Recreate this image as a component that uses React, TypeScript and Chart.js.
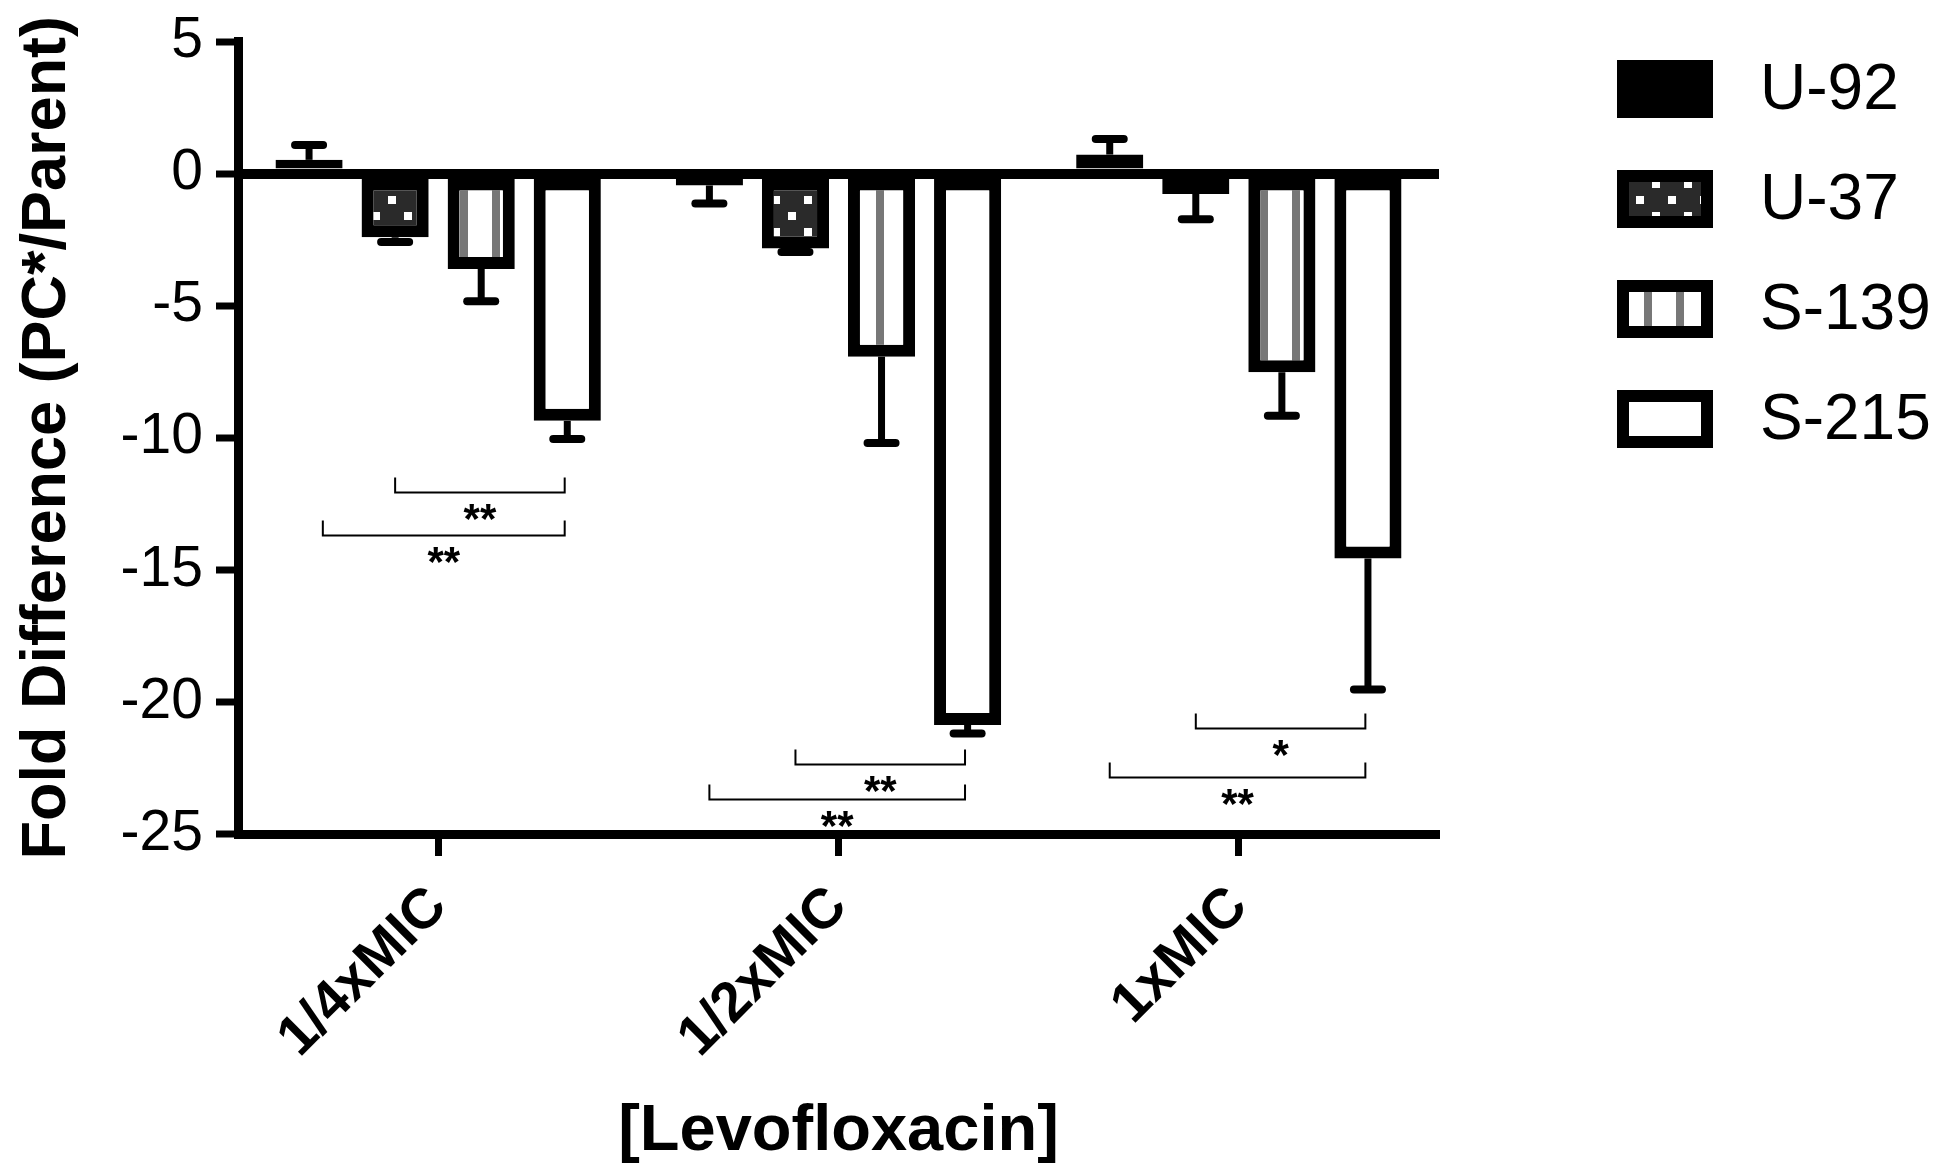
import { useEffect, useRef } from "react";
import { Chart, registerables } from "chart.js";

Chart.register(...registerables);

const categories = ["1/4xMIC", "1/2xMIC", "1xMIC"];
const seriesNames = ["U-92", "U-37", "S-139", "S-215"];

const u92Values = [0.52, -0.45, 0.72];
const u37Values = [-2.41, -2.84, -0.77];
const s139Values = [-3.61, -6.93, -7.52];
const s215Values = [-9.36, -20.87, -14.57];

const u92Errors = [0.56, 0.68, 0.59];
const u37Errors = [0.18, 0.13, 0.96];
const s139Errors = [1.22, 3.27, 1.65];
const s215Errors = [0.69, 0.33, 4.96];

const yTicks = [5, 0, -5, -10, -15, -20, -25];

// significance brackets (category index, from bar, to bar, level, label)
const bracketCategory = [0, 0, 1, 1, 2, 2];
const bracketFrom = [1, 0.16, 1, 0, 1, 0];
const bracketTo = [2.97, 2.97, 2.97, 2.97, 2.97, 2.97];
const bracketLevel = [-12.07, -13.68, -22.36, -23.68, -21.0, -22.84];
const bracketLabels = ["**", "**", "**", "**", "*", "**"];

const FONT = '"Liberation Sans", Arial, Helvetica, sans-serif';
const W = 1933;
const H = 1171;

function tile(w: number, h: number, draw: (g: CanvasRenderingContext2D) => void) {
  const c = document.createElement("canvas");
  c.width = w;
  c.height = h;
  const g = c.getContext("2d")!;
  draw(g);
  return c;
}

export default function App() {
  const canvasRef = useRef<HTMLCanvasElement | null>(null);

  useEffect(() => {
    if (!canvasRef.current) return;
    const ctx0 = canvasRef.current.getContext("2d")!;

    const dots = ctx0.createPattern(
      tile(32, 32, (g) => {
        g.fillStyle = "#2a2a2a";
        g.fillRect(0, 0, 32, 32);
        g.fillStyle = "#ffffff";
        g.fillRect(4, 4, 8, 8);
        g.fillRect(20, 20, 8, 8);
      }),
      "repeat"
    )!;
    const stripes = ctx0.createPattern(
      tile(32, 8, (g) => {
        g.fillStyle = "#ffffff";
        g.fillRect(0, 0, 32, 8);
        g.fillStyle = "#777777";
        g.fillRect(12, 0, 8, 8);
      }),
      "repeat"
    )!;

    const fills: (string | CanvasPattern)[] = ["#000000", dots, stripes, "#ffffff"];
    const values = [u92Values, u37Values, s139Values, s215Values];
    const errors = [u92Errors, u37Errors, s139Errors, s215Errors];

    const overlay = {
      id: "overlay",
      afterDatasetsDraw(chart: Chart) {
        const { ctx } = chart;
        const y = chart.scales.y;
        ctx.save();
        ctx.strokeStyle = "#000";
        // error bars, drawn away from zero
        values.forEach((vals, di) => {
          const meta = chart.getDatasetMeta(di);
          meta.data.forEach((bar: any, i: number) => {
            const v = vals[i];
            const tip = v + Math.sign(v) * errors[di][i];
            const y0 = y.getPixelForValue(v);
            const y1 = y.getPixelForValue(tip);
            ctx.lineWidth = 7;
            ctx.lineCap = "butt";
            ctx.beginPath();
            ctx.moveTo(bar.x, y0);
            ctx.lineTo(bar.x, y1);
            ctx.stroke();
            ctx.lineWidth = 8;
            ctx.lineCap = "round";
            ctx.beginPath();
            ctx.moveTo(bar.x - 14, y1);
            ctx.lineTo(bar.x + 14, y1);
            ctx.stroke();
          });
        });
        // brackets
        ctx.lineCap = "butt";
        ctx.lineWidth = 2;
        ctx.fillStyle = "#000";
        ctx.font = `bold 42px ${FONT}`;
        ctx.textAlign = "center";
        ctx.textBaseline = "alphabetic";
        bracketLabels.forEach((label, k) => {
          const c = bracketCategory[k];
          const x0 = (chart.getDatasetMeta(0).data[c] as any).x;
          const step = (chart.getDatasetMeta(1).data[c] as any).x - x0;
          const xa = x0 + bracketFrom[k] * step;
          const xb = x0 + bracketTo[k] * step;
          const yl = Math.round(y.getPixelForValue(bracketLevel[k])) + 0.5;
          ctx.beginPath();
          ctx.moveTo(xa, yl - 15);
          ctx.lineTo(xa, yl);
          ctx.lineTo(xb, yl);
          ctx.lineTo(xb, yl - 15);
          ctx.stroke();
          ctx.fillText(label, (xa + xb) / 2, yl + 40);
        });
        ctx.restore();
      },
      afterDraw(chart: Chart) {
        const { ctx } = chart;
        ctx.save();
        chart.data.datasets.forEach((ds: any, i: number) => {
          const left = 1617;
          const top = 60 + i * 110;
          ctx.fillStyle = "#000";
          ctx.fillRect(left, top, 96, 58);
          ctx.fillStyle = ds.backgroundColor;
          ctx.fillRect(left + 12, top + 12, 72, 34);
          ctx.fillStyle = "#000";
          ctx.font = `64px ${FONT}`;
          ctx.textAlign = "left";
          ctx.textBaseline = "middle";
          ctx.fillText(ds.label, 1760, top + 31);
        });
        ctx.restore();
      }
    };

    const chart = new Chart(canvasRef.current, {
      type: "bar",
      data: {
        labels: categories,
        datasets: seriesNames.map((name, i) => ({
          label: name,
          data: values[i],
          backgroundColor: fills[i],
          borderColor: "#000000",
          borderWidth: 12,
          borderSkipped: false,
          categoryPercentage: 0.86,
          barPercentage: 0.78
        }))
      },
      options: {
        responsive: true,
        maintainAspectRatio: false,
        animation: false,
        layout: { padding: { left: 0, right: 494, top: 32, bottom: 0 } },
        plugins: {
          legend: { display: false },
          tooltip: { enabled: false }
        },
        scales: {
          x: {
            afterFit: (s: any) => {
              s.height = 337;
            },
            grid: {
              offset: false,
              drawOnChartArea: false,
              drawTicks: true,
              tickLength: 22,
              tickWidth: 7,
              tickColor: "#000"
            },
            border: { display: true, color: "#000", width: 9 },
            ticks: {
              color: "#000",
              autoSkip: false,
              minRotation: 45,
              maxRotation: 45,
              padding: 18,
              font: { family: FONT, size: 56, weight: "bold" }
            },
            title: {
              display: true,
              text: "[Levofloxacin]",
              color: "#000",
              padding: { top: 0, bottom: 0 },
              font: { family: FONT, size: 65, weight: "bold" }
            }
          },
          y: {
            min: -25,
            max: 5,
            afterFit: (s: any) => {
              s.width = 238;
            },
            afterBuildTicks: (s: any) => {
              s.ticks = yTicks.map((v) => ({ value: v }));
            },
            grid: {
              drawOnChartArea: true,
              drawTicks: true,
              color: (c: any) => (c.tick && c.tick.value === 0 ? "#000" : "rgba(0,0,0,0)"),
              lineWidth: (c: any) => (c.tick && c.tick.value === 0 ? 10 : 0),
              tickLength: 22,
              tickWidth: 7,
              tickColor: "#000"
            },
            border: { display: true, color: "#000", width: 9 },
            ticks: {
              color: "#000",
              padding: 13,
              font: { family: FONT, size: 57, lineHeight: 1 }
            },
            title: {
              display: true,
              text: "Fold Difference (PC*/Parent)",
              color: "#000",
              padding: { top: 10, bottom: 0 },
              font: { family: FONT, size: 63, weight: "bold" }
            }
          }
        }
      },
      plugins: [overlay]
    });

    return () => chart.destroy();
  }, []);

  return (
    <div
      style={{
        position: "fixed",
        left: 0,
        top: 0,
        width: W,
        height: H,
        background: "#ffffff"
      }}
    >
      <canvas ref={canvasRef} />
    </div>
  );
}
